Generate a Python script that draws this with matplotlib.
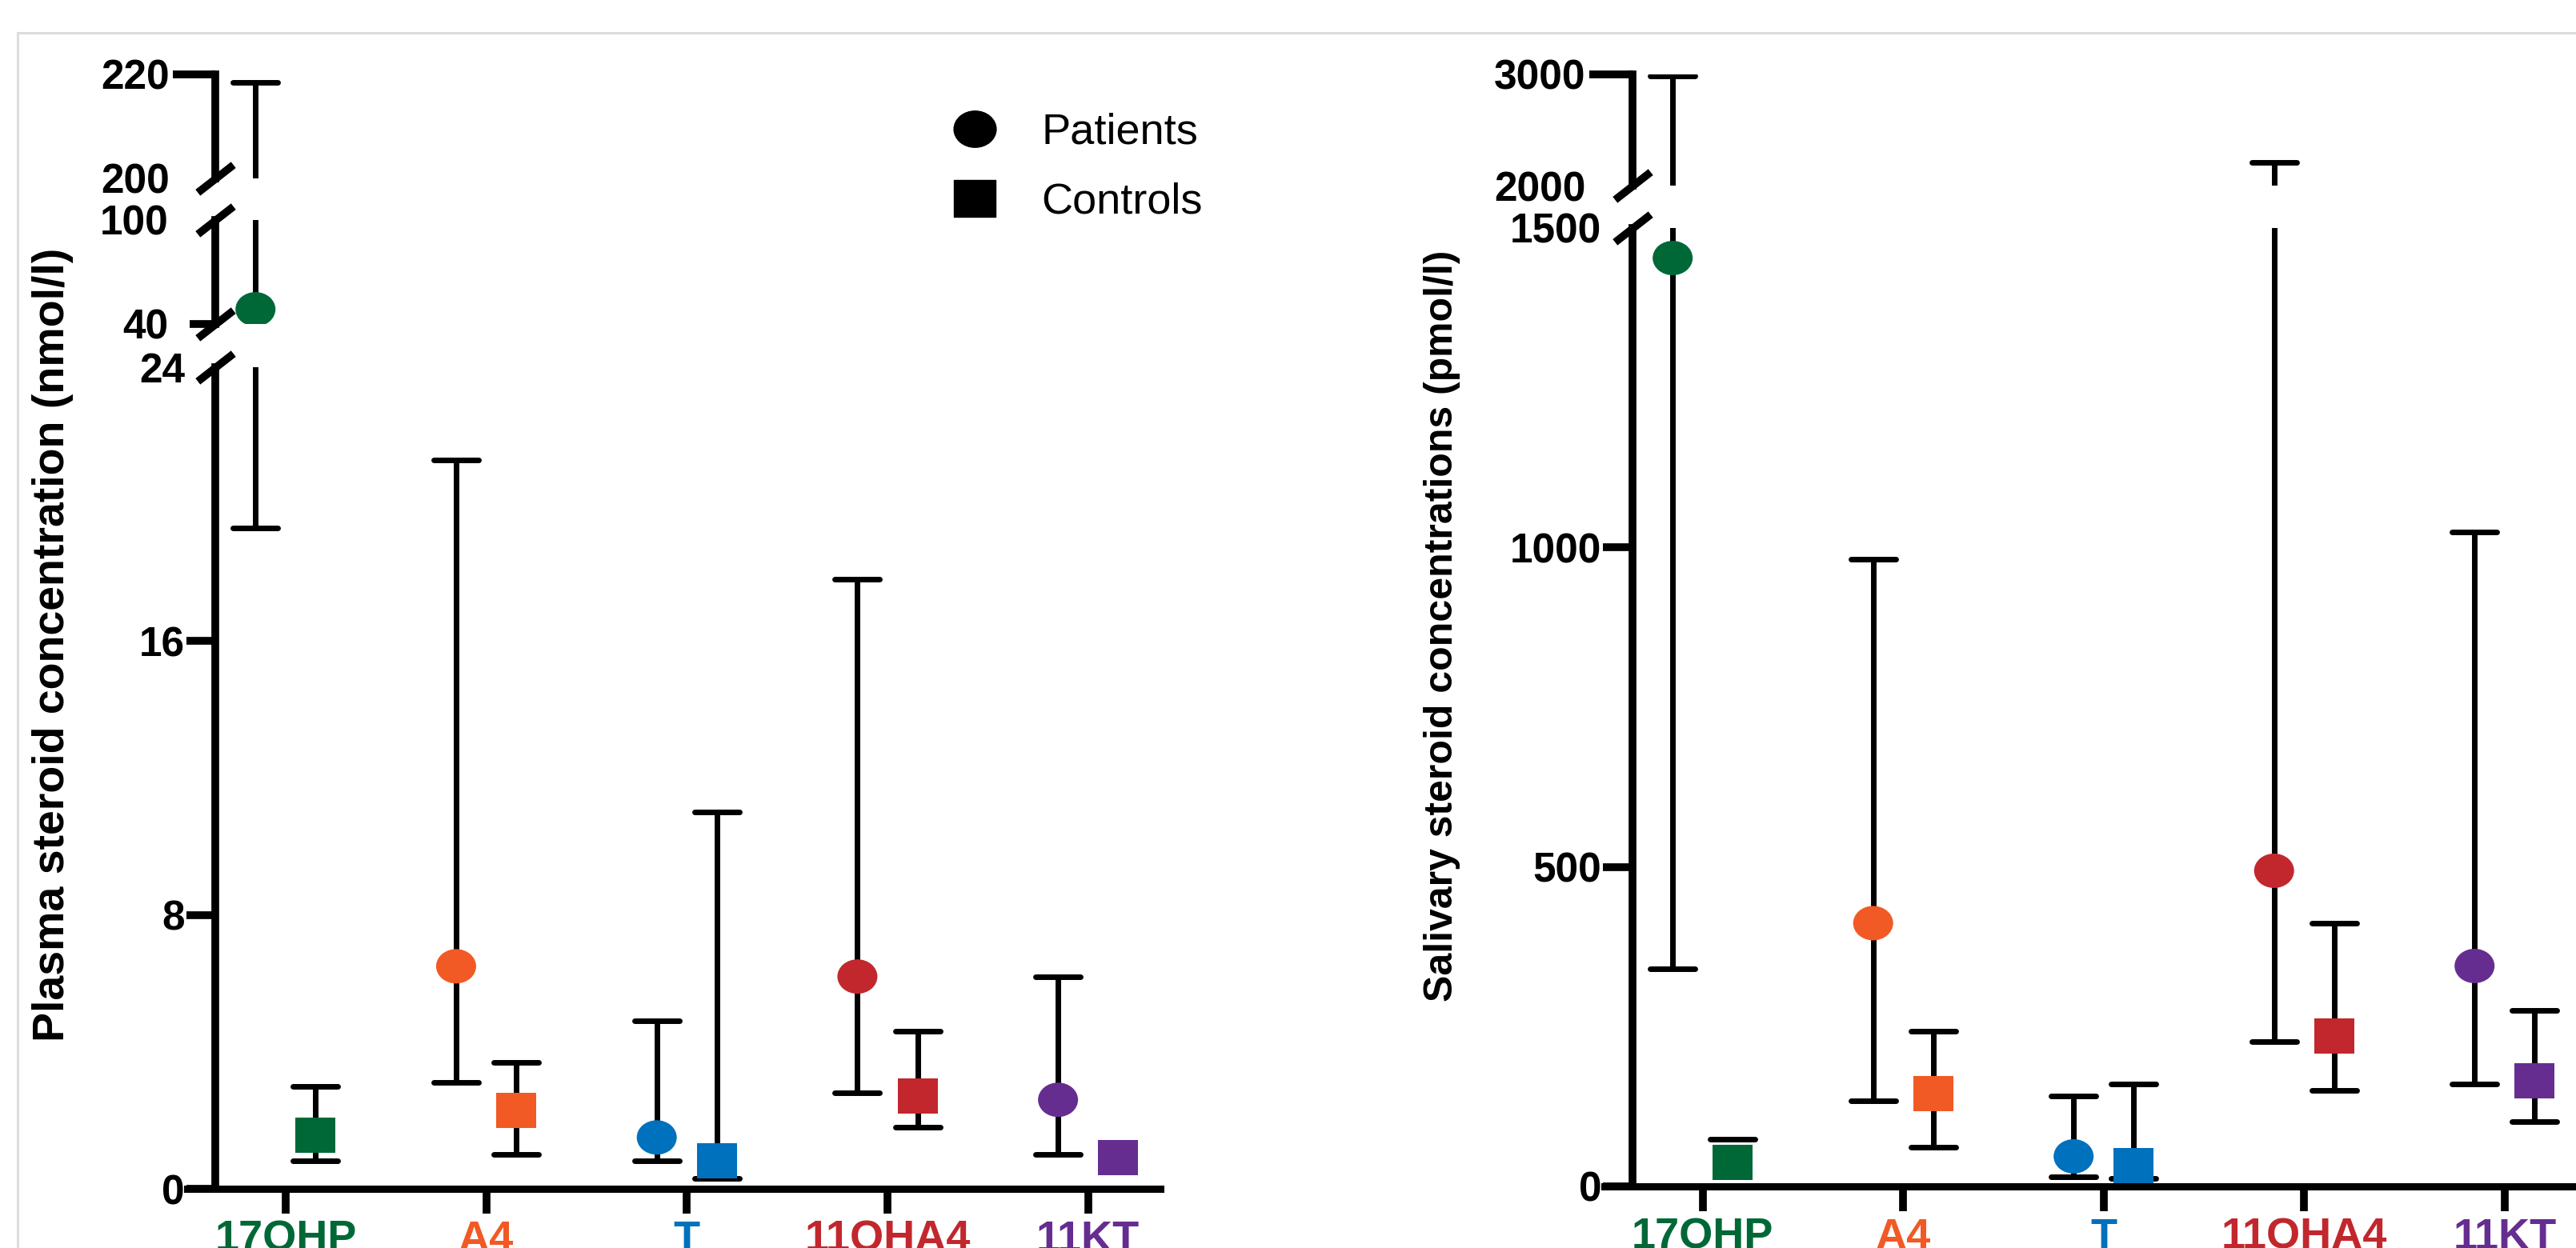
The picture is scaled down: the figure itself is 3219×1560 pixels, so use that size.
import matplotlib
matplotlib.use('Agg')
import matplotlib.pyplot as plt
from matplotlib.path import Path
from matplotlib.markers import MarkerStyle
from matplotlib.lines import Line2D

plt.rcParams['font.family'] = ['Liberation Sans', 'DejaVu Sans']

nan = float('nan')
steroids = ['17OHP', 'A4', 'T', '11OHA4', '11KT']
colors = ['#006837', '#f15a24', '#0071bc', '#c1272d', '#662d91']

# plasma (nmol/l): median and range (nan = whisker hidden behind the marker)
plasma_pat_med = [48.5, 6.5, 1.5, 6.2, 2.6]
plasma_pat_lo = [19.3, 3.1, 0.82, 2.8, 1.0]
plasma_pat_hi = [218.4, 21.3, 4.9, 17.8, 6.2]
plasma_ctl_med = [1.57, 2.3, 0.82, 2.7, 0.9]
plasma_ctl_lo = [0.82, 1.0, 0.3, 1.8, nan]
plasma_ctl_hi = [3.0, 3.7, 11.0, 4.6, nan]

# saliva (pmol/l): median and range
saliva_pat_med = [1453, 412, 47, 494, 345]
saliva_pat_lo = [340, 134, 15, 227, 160]
saliva_pat_hi = [2985, 982, 142, 2210, 1024]
saliva_ctl_med = [38, 145, 32, 235, 165]
saliva_ctl_lo = [nan, 61, 12, 150, 101]
saliva_ctl_hi = [74, 243, 160, 412, 275]

W, H = 3219, 1560
fig = plt.figure(figsize=(W / 100, H / 100), dpi=100)

# slightly flattened circle / square markers
circ = Path.unit_circle()
ell = Path(circ.vertices * [1, 0.86], circ.codes)
rect = Path([(-1, -0.88), (1, -0.88), (1, 0.88), (-1, 0.88), (-1, -0.88)],
            [Path.MOVETO, Path.LINETO, Path.LINETO, Path.LINETO, Path.CLOSEPOLY])
brk = Path([(-1, -0.78), (1, 0.78)], [Path.MOVETO, Path.LINETO])

SPINE_X = -0.35
OFF = 0.15
xs = list(range(len(steroids)))


def segment(left, width, bot, hgt, ylim, ticks, hide_tick, tlen, tpad,
            pm, pl, ph, cm, cl, ch, lowest, break_low, break_high):
    ax = fig.add_axes([left, bot / H, width, hgt / H])
    ax.patch.set_visible(False)
    ax.set_xlim(-0.49, 4.36)
    ax.set_ylim(*ylim)
    for s in ['top', 'right']:
        ax.spines[s].set_visible(False)
    ax.spines['left'].set_position(('data', SPINE_X))
    ax.spines['left'].set_linewidth(7)
    ax.set_yticks(ticks)
    ax.set_yticklabels([str(t) for t in ticks], fontsize=37, fontweight='bold')
    ax.tick_params(axis='y', length=tlen, width=7, pad=tpad)
    for i, t in enumerate(ax.yaxis.get_major_ticks()):
        if ticks[i] in hide_tick:
            t.tick1line.set_visible(False)
    if lowest:
        ax.spines['bottom'].set_linewidth(6.5)
        ax.set_xticks(xs)
        ax.set_xticklabels(steroids, fontsize=39, fontweight='bold')
        for lab, c in zip(ax.get_xticklabels(), colors):
            lab.set_color(c)
        ax.tick_params(axis='x', length=22, width=7, pad=6)
    else:
        ax.spines['bottom'].set_visible(False)
        ax.set_xticks([])

    xp = [x - OFF for x in xs]
    xc = [x + OFF for x in xs]
    for xx, m, lo, hi in [(xp, pm, pl, ph), (xc, cm, cl, ch)]:
        eb = ax.errorbar(xx, m, yerr=[[a - b for a, b in zip(m, lo)],
                                      [b - a for a, b in zip(m, hi)]],
                         fmt='none', ecolor='black', elinewidth=5,
                         capsize=20, capthick=5, zorder=2)
        for cap in eb[1]:
            cap.set_marker(MarkerStyle('_', capstyle='round'))
    ax.scatter(xp, pm, s=36 ** 2, marker=MarkerStyle(ell), c=colors,
               linewidths=0, zorder=3)
    ax.scatter(xc, cm, s=36 ** 2, marker=MarkerStyle(rect), c=colors,
               linewidths=0, zorder=3)

    ends = []
    if break_low:
        ends.append(0)
    if break_high:
        ends.append(1)
    if ends:
        ax.plot([SPINE_X] * len(ends), ends, transform=ax.get_xaxis_transform(),
                marker=MarkerStyle(brk), markersize=32, markeredgewidth=7,
                color='black', linestyle='none', clip_on=False, zorder=5)
    return ax


# left panel: plasma
L_left, L_w = 234 / W, 1216 / W
segment(L_left, L_w, H - 1486, 1027, (0, 24), [0, 8, 16, 24], [24], 26, 1.5,
        plasma_pat_med, plasma_pat_lo, plasma_pat_hi,
        plasma_ctl_med, plasma_ctl_lo, plasma_ctl_hi, True, False, True)
segment(L_left, L_w, H - 405, 130, (40, 100), [40, 100], [100], 23, 19,
        plasma_pat_med, plasma_pat_lo, plasma_pat_hi,
        plasma_ctl_med, plasma_ctl_lo, plasma_ctl_hi, False, True, True)
segment(L_left, L_w, H - 223, 130, (200, 220), [200, 220], [200], 38, 3,
        plasma_pat_med, plasma_pat_lo, plasma_pat_hi,
        plasma_ctl_med, plasma_ctl_lo, plasma_ctl_hi, False, True, False)

# right panel: saliva
R_left, R_w = 2005 / W, 1215 / W
segment(R_left, R_w, H - 1483, 1198, (0, 1500), [0, 500, 1000, 1500], [1500], 27, 1,
        saliva_pat_med, saliva_pat_lo, saliva_pat_hi,
        saliva_ctl_med, saliva_ctl_lo, saliva_ctl_hi, True, False, True)
segment(R_left, R_w, H - 232, 139, (2000, 3000), [2000, 3000], [2000], 39, 3,
        saliva_pat_med, saliva_pat_lo, saliva_pat_hi,
        saliva_ctl_med, saliva_ctl_lo, saliva_ctl_hi, False, True, False)

# legend
handles = [Line2D([], [], marker=MarkerStyle(ell), color='black', linestyle='none', markersize=38),
           Line2D([], [], marker=MarkerStyle(rect), color='black', linestyle='none', markersize=38)]
fig.legend(handles, ['Patients', 'Controls'], loc='upper left',
           bbox_to_anchor=(1191 / W, 1 - 141 / H), bbox_transform=fig.transFigure,
           frameon=False, borderpad=0, borderaxespad=0, handlelength=1.0,
           handletextpad=1.04, labelspacing=0.68, fontsize=39)

fig.text(66 / W, 1 - 806 / H, 'Plasma steroid concentration (nmol/l)', rotation=90,
         ha='center', va='center', fontsize=40, fontweight='bold')
fig.text(1802 / W, 1 - 782 / H, 'Salivary steroid concentrations (pmol/l)', rotation=90,
         ha='center', va='center', fontsize=36, fontweight='bold')

# thin frame of the original figure panel
fig.add_artist(Line2D([22 / W, 1], [1 - 41 / H, 1 - 41 / H], transform=fig.transFigure,
                      color='#dcdcdc', lw=2.2))
fig.add_artist(Line2D([22 / W, 22 / W], [0, 1 - 41 / H], transform=fig.transFigure,
                      color='#dcdcdc', lw=2.2))

fig.savefig('out.png', dpi=100)
